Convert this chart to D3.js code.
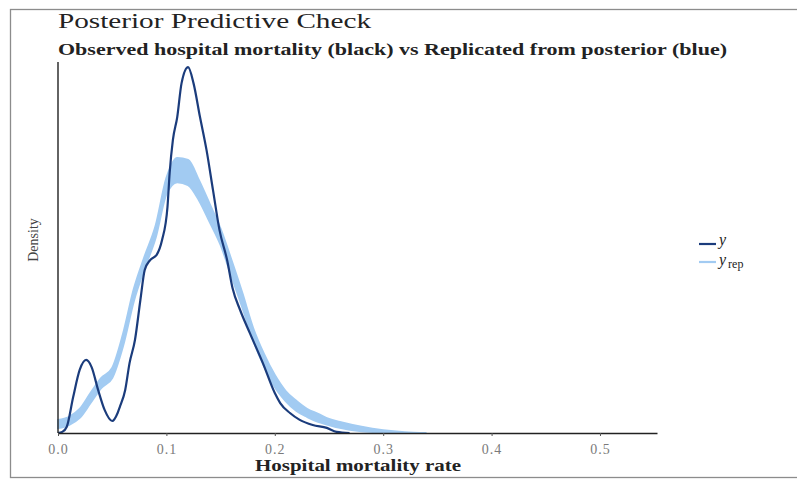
<!DOCTYPE html>
<html>
<head>
<meta charset="utf-8">
<script src="https://cdn.jsdelivr.net/npm/d3@7"></script>
<style>
  body { margin: 0; background: #fff; }
  svg { display: block; }
</style>
</head>
<body>
<div id="chart"></div>
<script>
// observed density (y)
const obsX = [0, 0.004, 0.008, 0.014, 0.020, 0.026, 0.031, 0.037, 0.043, 0.050, 0.055, 0.057,
  0.062, 0.066, 0.071, 0.076, 0.080, 0.085, 0.091, 0.096, 0.101, 0.103, 0.106, 0.110, 0.114,
  0.120, 0.125, 0.131, 0.137, 0.143, 0.149, 0.156, 0.161, 0.168, 0.177, 0.189, 0.200, 0.205,
  0.214, 0.223, 0.235, 0.248, 0.257, 0.269];
const obsDens = [0, 0.04, 0.21, 1.26, 2.21, 2.56, 2.31, 1.51, 0.81, 0.42, 0.70, 0.91,
  1.51, 2.45, 3.26, 4.66, 5.71, 6.06, 6.24, 6.76, 7.92, 9.11, 10.27, 11.07, 12.26,
  12.82, 12.26, 11.07, 9.92, 8.51, 7.11, 6.06, 5.08, 4.31, 3.50, 2.45, 1.40, 1.05,
  0.70, 0.46, 0.28, 0.18, 0.04, 0];

// replicated densities (y_rep), spread of the draws
const repX = [0, 0.01, 0.02, 0.03, 0.04, 0.05, 0.06, 0.07, 0.08, 0.09, 0.10, 0.11, 0.12,
  0.13, 0.14, 0.15, 0.16, 0.17, 0.18, 0.19, 0.20, 0.21, 0.22, 0.23, 0.24, 0.25, 0.26,
  0.28, 0.30, 0.32, 0.34];
const repLow = [0.175, 0.28, 0.53, 1.05, 1.58, 1.93, 3.05, 4.63, 5.78, 6.83, 8.37, 8.79, 8.69,
  8.16, 7.39, 6.59, 5.50, 4.41, 3.26, 2.35, 1.61, 1.12, 0.77, 0.56, 0.39, 0.28, 0.18,
  0.06, 0.02, 0, 0];
const repHigh = [0.455, 0.56, 0.84, 1.40, 1.93, 2.28, 3.47, 5.05, 6.20, 7.25, 8.93, 9.64, 9.57,
  8.86, 8.02, 7.15, 6.06, 4.91, 3.68, 2.77, 2.03, 1.47, 1.12, 0.84, 0.67, 0.49, 0.39,
  0.22, 0.10, 0.03, 0];

const xTicks = [0, 0.1, 0.2, 0.3, 0.4, 0.5];

const darkBlue = "#1b3c7c";
const lightBlue = "#a2cbf2";

const W = 797, H = 480;
const margin = { top: 62, right: 140, bottom: 47, left: 58 };

const svg = d3.select("#chart").append("svg")
  .attr("width", W)
  .attr("height", H)
  .style("font-family", "'Liberation Serif', 'Times New Roman', serif");

// screenshot frame
svg.append("rect")
  .attr("x", 10.5).attr("y", 9.5)
  .attr("width", W).attr("height", H - 12)
  .attr("fill", "none")
  .attr("stroke", "#8c8c8c")
  .attr("stroke-width", 1.3);

const x = d3.scaleLinear()
  .domain([0, 0.5526])
  .range([margin.left, 657]);
const y = d3.scaleLinear()
  .domain([0, 13])
  .range([H - margin.bottom, margin.top]);

// title + subtitle
svg.append("text")
  .attr("x", 58).attr("y", 28)
  .attr("font-size", 22)
  .attr("fill", "#222")
  .attr("textLength", 313)
  .attr("lengthAdjust", "spacingAndGlyphs")
  .text("Posterior Predictive Check");
svg.append("text")
  .attr("x", 58).attr("y", 55)
  .attr("font-size", 17.5)
  .attr("font-weight", "bold")
  .attr("fill", "#222")
  .attr("textLength", 669)
  .attr("lengthAdjust", "spacingAndGlyphs")
  .text("Observed hospital mortality (black) vs Replicated from posterior (blue)");

// y_rep band
const band = d3.area()
  .x((d, i) => x(repX[i]))
  .y0((d, i) => y(repLow[i]))
  .y1((d, i) => y(repHigh[i]))
  .curve(d3.curveMonotoneX);

svg.append("path")
  .datum(repX)
  .attr("d", band)
  .attr("fill", lightBlue)
  .attr("stroke", lightBlue)
  .attr("stroke-width", 2);

// observed
const line = d3.line()
  .x((d, i) => x(obsX[i]))
  .y(d => y(d))
  .curve(d3.curveMonotoneX);

svg.append("path")
  .datum(obsDens)
  .attr("d", line)
  .attr("fill", "none")
  .attr("stroke", darkBlue)
  .attr("stroke-width", 2.2);

// axes
const xAxis = d3.axisBottom(x)
  .tickValues(xTicks)
  .tickFormat(d3.format(".1f"))
  .tickSize(3)
  .tickSizeOuter(0);

const gX = svg.append("g")
  .attr("transform", "translate(0," + (H - margin.bottom) + ")")
  .call(xAxis);
gX.select(".domain").attr("stroke", "#222").attr("stroke-width", 1.6);
gX.selectAll(".tick line").attr("stroke", "#555");
gX.selectAll(".tick text")
  .attr("fill", "#7a7a7a")
  .attr("font-size", 14)
  .attr("letter-spacing", 1)
  .attr("font-family", "'Liberation Serif', serif")
  .attr("dy", "1.05em");

svg.append("line")
  .attr("x1", margin.left).attr("x2", margin.left)
  .attr("y1", margin.top).attr("y2", H - margin.bottom)
  .attr("stroke", "#222")
  .attr("stroke-width", 1.4);

svg.append("text")
  .attr("x", 255).attr("y", 471)
  .attr("font-size", 17)
  .attr("font-weight", "bold")
  .attr("fill", "#222")
  .attr("textLength", 206)
  .attr("lengthAdjust", "spacingAndGlyphs")
  .text("Hospital mortality rate");

svg.append("text")
  .attr("transform", "translate(38,240) rotate(-90)")
  .attr("text-anchor", "middle")
  .attr("font-size", 14)
  .attr("fill", "#444")
  .text("Density");

// legend
const legend = svg.append("g").attr("transform", "translate(699,0)");
legend.append("line")
  .attr("x1", 0).attr("x2", 17).attr("y1", 244).attr("y2", 244)
  .attr("stroke", darkBlue).attr("stroke-width", 2.2);
legend.append("text")
  .attr("x", 20).attr("y", 245)
  .attr("font-size", 16).attr("font-style", "italic").attr("fill", "#222")
  .text("y");
legend.append("line")
  .attr("x1", 0).attr("x2", 17).attr("y1", 262).attr("y2", 262)
  .attr("stroke", lightBlue).attr("stroke-width", 2.2);
const rep = legend.append("text")
  .attr("x", 20).attr("y", 265)
  .attr("font-size", 16).attr("fill", "#222");
rep.append("tspan").attr("font-style", "italic").text("y");
rep.append("tspan").attr("font-size", 12).attr("dx", 2).attr("dy", 3).text("rep");
</script>
</body>
</html>
